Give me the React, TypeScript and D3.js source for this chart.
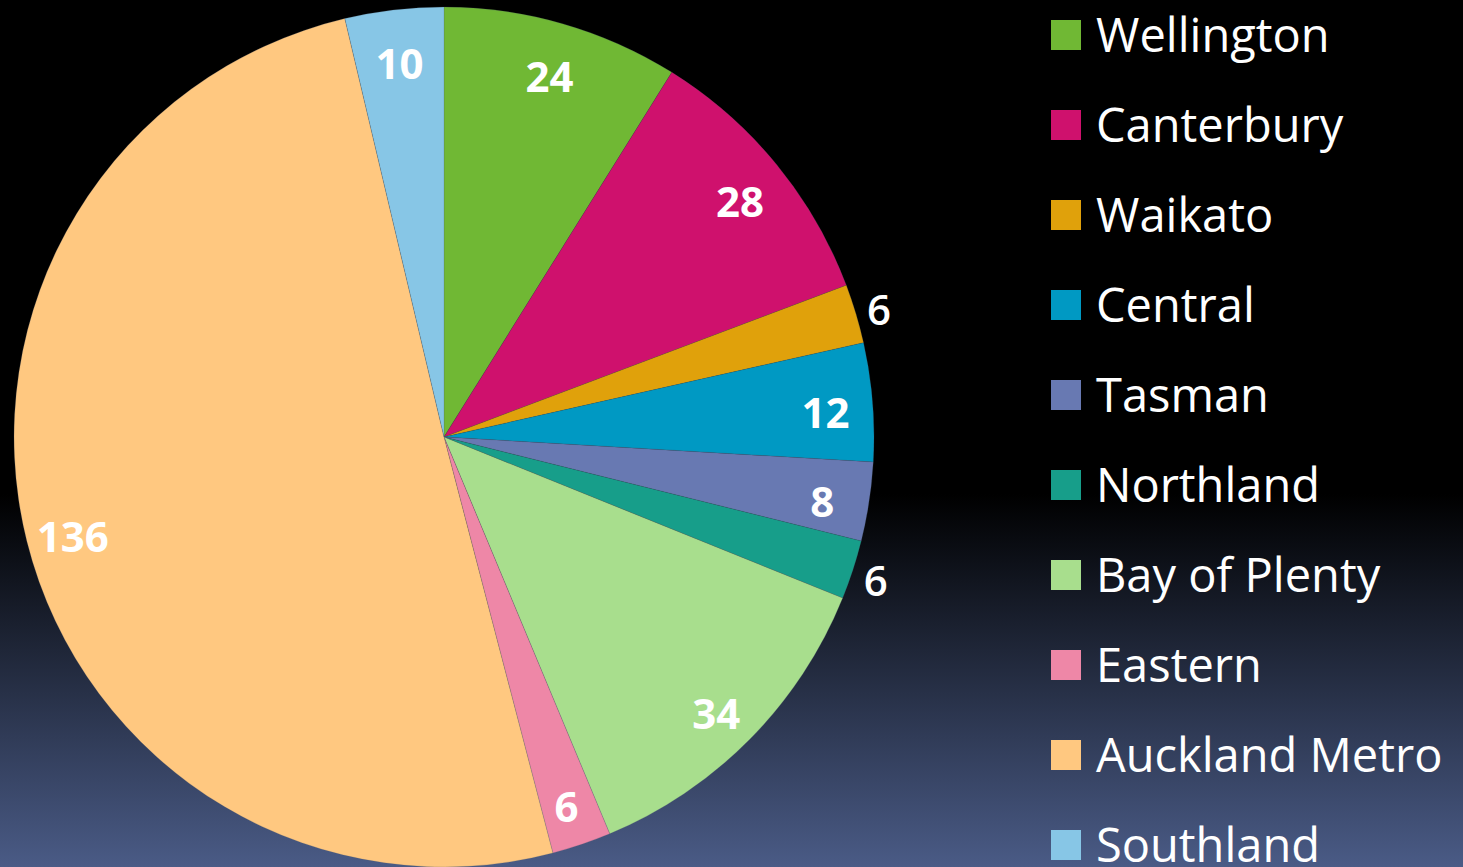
import React from "react";
import * as d3 from "d3";

const regions = ["Wellington", "Canterbury", "Waikato", "Central", "Tasman", "Northland", "Bay of Plenty", "Eastern", "Auckland Metro", "Southland"];
const counts = [24, 28, 6, 12, 8, 6, 34, 6, 136, 10];
const colors = ["#70b834", "#cf116d", "#e0a10b", "#0099c3", "#6879b2", "#179e8a", "#a8de8d", "#ee87a7", "#ffc880", "#87c6e6"];
const outsideLabels = ["Waikato", "Northland"];

const W = 1463;
const H = 867;

export default function App() {
  const cx = 444;
  const cy = 437;
  const r = 430;
  const data = regions.map((name, i) => ({ name, value: counts[i], color: colors[i] }));
  const pie = d3.pie<any>().sort(null).value((d: any) => d.value);
  const arcs = pie(data);
  const arcGen = d3.arc<any>().innerRadius(0).outerRadius(r);
  const inLabel = d3.arc<any>().innerRadius(r * 0.89).outerRadius(r * 0.89);
  const outLabel = d3.arc<any>().innerRadius(r + 24).outerRadius(r + 24);

  const legendY = d3.scaleBand<string>().domain(regions).range([-10, 890]);

  return (
    <svg width={W} height={H} style={{ position: "fixed", left: 0, top: 0, display: "block" }}>
      <defs>
        <linearGradient id="bg" x1="0" y1="0" x2="0" y2="1">
          <stop offset="0" stopColor="#000000" />
          <stop offset="0.57" stopColor="#000000" />
          <stop offset="1" stopColor="#4a5b86" />
        </linearGradient>
      </defs>
      <rect x={0} y={0} width={W} height={H} fill="url(#bg)" />
      <g transform={`translate(${cx},${cy})`}>
        {arcs.map((a: any, i: number) => (
          <path key={i} d={arcGen(a) as string} fill={a.data.color} stroke="#4a5a70" strokeWidth={0.4} strokeOpacity={0.5} />
        ))}
        {arcs.map((a: any, i: number) => {
          const outside = outsideLabels.includes(a.data.name);
          const [x, y] = (outside ? outLabel : inLabel).centroid(a);
          return (
            <text
              key={"l" + i}
              x={x}
              y={y + (outside ? 2 : 6)}
              textAnchor="middle"
              dominantBaseline="central"
              fill="#ffffff"
              fontFamily="'Open Sans', sans-serif"
              fontWeight={outside ? 600 : 700}
              fontSize={42}
            >
              {a.data.value}
            </text>
          );
        })}
      </g>
      <g>
        {regions.map((name, i) => {
          const yc = (legendY(name) as number) + legendY.bandwidth() / 2;
          return (
            <g key={name}>
              <rect x={1051} y={yc - 15} width={30} height={30} fill={colors[i]} />
              <text x={1096} y={yc + 17} fill="#ffffff" fontFamily="'Open Sans', sans-serif" fontSize={47}>
                {name}
              </text>
            </g>
          );
        })}
      </g>
    </svg>
  );
}
